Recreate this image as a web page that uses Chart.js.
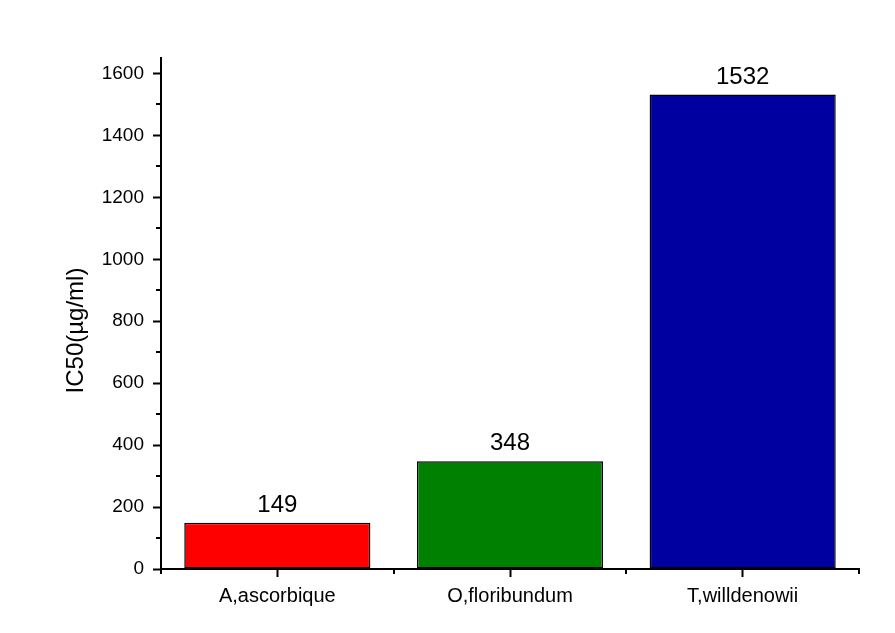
<!DOCTYPE html>
<html>
<head>
<meta charset="utf-8">
<script src="https://cdn.jsdelivr.net/npm/chart.js@4/dist/chart.umd.min.js"></script>
<style>
  html, body { margin: 0; padding: 0; background: #ffffff; }
  #wrap { width: 895px; height: 633px; position: relative; }
</style>
</head>
<body>
<div id="wrap"><canvas id="c" width="895" height="633"></canvas></div>
<script>
// IC50 values per extract
const categories = ['A,ascorbique', 'O,floribundum', 'T,willdenowii'];
const ic50Values = [149, 348, 1532];
const barColors = ['#FF0000', '#008000', '#0000A0'];
const yTicks = [0, 200, 400, 600, 800, 1000, 1200, 1400, 1600];
const yMinorTicks = [100, 300, 500, 700, 900, 1100, 1300, 1500];
const yMax = 1650;
const yTitle = 'IC50(µg/ml)';

const FONT = "'Liberation Sans', Arial, sans-serif";

// Minor ticks, category boundary ticks, axis title and value labels
const extras = {
  id: 'extras',
  afterDatasetsDraw(chart) {
    const ctx = chart.ctx;
    const ys = chart.scales.y, xs = chart.scales.x;
    const area = chart.chartArea;
    ctx.save();
    ctx.strokeStyle = '#000';
    ctx.lineWidth = 2;
    ctx.beginPath();
    yMinorTicks.forEach(v => {
      const py = Math.round(ys.getPixelForValue(v));
      ctx.moveTo(area.left - 5, py);
      ctx.lineTo(area.left, py);
    });
    for (let i = 0; i <= categories.length; i++) {
      const px = Math.round(xs.getPixelForValue(i - 0.5));
      ctx.moveTo(px, area.bottom);
      ctx.lineTo(px, area.bottom + 5);
    }
    ctx.stroke();

    ctx.fillStyle = '#000';
    ctx.font = '24px ' + FONT;
    ctx.textAlign = 'center';
    ctx.textBaseline = 'alphabetic';
    const meta = chart.getDatasetMeta(0);
    meta.data.forEach((bar, i) => {
      ctx.fillText(String(ic50Values[i]), bar.x, bar.y - 11);
    });

    // rotated y-axis title, sitting slightly below the axis middle
    ctx.translate(76, (area.top + area.bottom) / 2 + 17);
    ctx.rotate(-Math.PI / 2);
    ctx.textBaseline = 'middle';
    ctx.fillText(yTitle, 0, 0);
    ctx.restore();
  }
};

new Chart(document.getElementById('c'), {
  type: 'bar',
  data: {
    labels: categories,
    datasets: [{
      data: ic50Values,
      backgroundColor: barColors,
      borderColor: '#000',
      borderWidth: 1.5,
      borderSkipped: false,
      barPercentage: 0.8,
      categoryPercentage: 1.0
    }]
  },
  options: {
    responsive: false,
    animation: false,
    layout: { padding: { top: 58, right: 36, left: 0, bottom: 0 } },
    plugins: { legend: { display: false }, tooltip: { enabled: false } },
    scales: {
      x: {
        offset: true,
        grid: {
          offset: false,
          drawOnChartArea: false,
          drawTicks: true,
          tickLength: 8,
          tickWidth: 2,
          tickColor: '#000'
        },
        border: { display: true, color: '#000', width: 2 },
        ticks: {
          color: '#000',
          font: { family: FONT, size: 20 },
          padding: 7,
          maxRotation: 0
        },
        afterFit(scale) { scale.height = 64; }
      },
      y: {
        min: 0,
        max: yMax,
        afterBuildTicks(scale) { scale.ticks = yTicks.map(v => ({ value: v })); },
        grid: {
          drawOnChartArea: false,
          drawTicks: true,
          tickLength: 8,
          tickWidth: 2,
          tickColor: '#000'
        },
        border: { display: true, color: '#000', width: 2 },
        ticks: {
          color: '#000',
          font: { family: FONT, size: 19 },
          padding: 9,
          callback: v => String(v)
        },
        title: { display: false },
        afterFit(scale) { scale.width = 161; }
      }
    }
  },
  plugins: [extras]
});
</script>
</body>
</html>
